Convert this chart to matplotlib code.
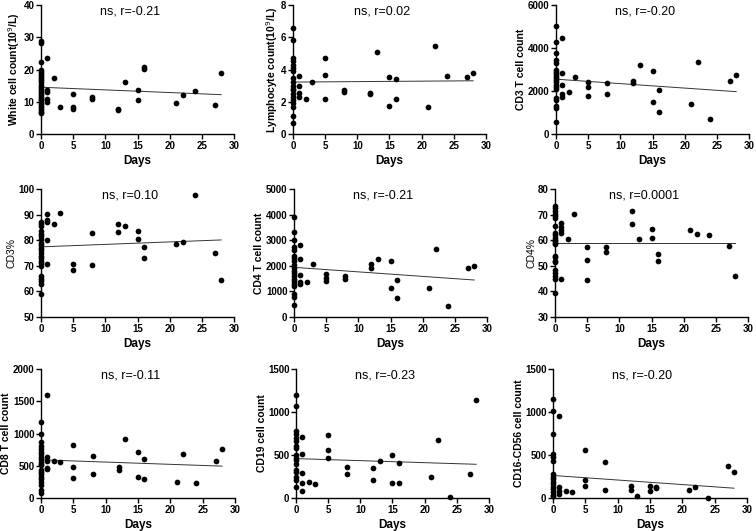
import numpy as np
import matplotlib
matplotlib.use("Agg")
import matplotlib.pyplot as plt

plt.rcParams["font.family"] = ["Liberation Sans", "DejaVu Sans"]

# -- values (day 0 samples, then later samples)
wbc_d0 = [28.9, 28.3, 22.3, 19.8, 19.2, 18.5, 18.0, 17.3, 16.7, 16.0, 15.3, 14.7, 14.0,
          13.4, 12.8, 12.2, 11.6, 11.0, 10.4, 9.8, 9.2, 8.6, 8.0, 7.4, 6.8, 6.5]
wbc_days = [1, 1, 1, 1, 1, 2, 3, 5, 5, 5, 8, 8, 12, 12, 13, 15, 15, 16, 16, 21, 22, 24, 27, 28]
wbc_vals = [23.6, 13.6, 13.1, 10.7, 10.0, 17.3, 8.5, 12.3, 8.3, 7.9, 11.4, 11.0, 7.9, 7.3,
            16.1, 13.6, 10.5, 20.9, 20.2, 9.5, 12.2, 13.4, 9.0, 19.0]

lym_d0 = [6.55, 5.83, 4.7, 4.5, 4.3, 4.1, 3.9, 3.5, 3.2, 3.0, 2.8, 2.7, 2.5, 2.3, 2.1,
          1.9, 1.7, 1.14, 0.7]
lym_days = [1, 1, 1, 1, 2, 3, 5, 5, 5, 8, 8, 12, 12, 13, 15, 15, 16, 16, 21, 22, 24, 27, 28]
lym_vals = [3.6, 3.0, 2.55, 2.27, 2.19, 3.2, 4.69, 3.64, 2.19, 2.73, 2.62, 2.56, 2.46, 5.06,
            3.51, 1.74, 3.41, 2.19, 1.65, 5.45, 3.62, 3.55, 3.8]

cd3_d0 = [5020, 4270, 3760, 3460, 3320, 3000, 2900, 2800, 2700, 2600, 2500, 2400, 2300,
          2200, 2100, 1690, 1560, 1280, 1210, 550]
cd3_days = [1, 1, 1, 1, 1, 2, 3, 5, 5, 5, 8, 8, 12, 12, 13, 15, 15, 16, 16, 21, 22, 24, 27, 28]
cd3_vals = [4470, 2850, 2300, 1840, 1720, 1970, 2650, 2430, 2200, 1760, 2350, 1860, 2470,
            2390, 3230, 2930, 1480, 2050, 1010, 1390, 3370, 680, 2470, 2760]

cd3p_d0 = [87.2, 86.5, 85.5, 83.5, 82.5, 81.5, 80.5, 79.0, 78.0, 77.0, 76.0, 75.0, 74.0,
           73.0, 72.0, 71.0, 70.0, 66.0, 65.0, 64.0, 62.8, 58.9]
cd3p_days = [1, 1, 1, 1, 1, 2, 3, 5, 5, 8, 8, 12, 12, 13, 15, 15, 16, 16, 21, 22, 24, 27, 28]
cd3p_vals = [90.4, 87.9, 87.1, 80.1, 70.6, 86.2, 90.5, 70.7, 68.4, 82.9, 70.3, 86.3, 83.3,
             85.5, 83.5, 80.5, 77.3, 72.9, 78.4, 79.2, 97.5, 75.1, 64.3]

cd4_d0 = [3906, 3333, 3008, 2721, 2600, 2380, 2300, 2200, 2050, 1900, 1800, 1700, 1600,
          1500, 1400, 1300, 1211, 885, 794, 469]
cd4_days = [1, 1, 1, 1, 1, 2, 3, 5, 5, 5, 8, 8, 12, 12, 13, 15, 15, 16, 16, 21, 22, 24, 27, 28]
cd4_vals = [2826, 2253, 1654, 1367, 1276, 1380, 2057, 1667, 1536, 1419, 1615, 1471, 2057,
            1927, 2279, 2200, 1146, 1445, 729, 1120, 2643, 430, 1914, 1979]

cd4p_d0 = [73.4, 72.4, 71.5, 70.4, 69.5, 68.5, 65.6, 63.0, 62.0, 61.0, 60.0, 59.5, 59.0,
           58.5, 54.0, 53.4, 52.0, 51.5, 48.4, 47.0, 46.0, 44.7, 39.2]
cd4p_days = [1, 1, 1, 1, 1, 2, 3, 5, 5, 5, 8, 8, 12, 12, 13, 15, 15, 16, 16, 21, 22, 24, 27, 28]
cd4p_vals = [66.6, 65.3, 64.0, 62.7, 44.8, 60.6, 70.4, 57.3, 52.1, 44.5, 57.5, 55.5, 71.3,
             66.4, 60.5, 64.4, 60.7, 54.5, 52.0, 63.9, 62.6, 61.9, 57.8, 46.0]

cd8_d0 = [1184, 997, 873, 800, 760, 720, 680, 640, 600, 560, 520, 504, 430, 400, 370,
          330, 300, 244, 200, 125, 78]
cd8_days = [1, 1, 1, 1, 1, 2, 3, 5, 5, 5, 8, 8, 12, 12, 13, 15, 15, 16, 16, 21, 22, 24, 27, 28]
cd8_vals = [1600, 634, 571, 462, 442, 571, 561, 826, 483, 317, 655, 369, 483, 436, 914,
            706, 327, 603, 291, 255, 681, 229, 577, 764]

cd19_d0 = [1202, 1065, 776, 740, 700, 666, 600, 580, 500, 470, 440, 400, 330, 300, 250,
           212, 125]
cd19_days = [1, 1, 1, 1, 1, 2, 3, 5, 5, 5, 8, 8, 12, 12, 13, 15, 15, 16, 16, 21, 22, 24, 27, 28]
cd19_vals = [709, 513, 290, 176, 86, 184, 168, 732, 556, 466, 360, 282, 345, 212, 431,
             501, 180, 411, 176, 243, 678, 12, 278, 1144]

nk_d0 = [1152, 1011, 744, 513, 474, 427, 280, 250, 220, 190, 160, 130, 100, 70, 40, 20]
nk_days = [1, 1, 1, 1, 2, 3, 5, 5, 5, 8, 8, 12, 12, 13, 15, 15, 16, 16, 21, 22, 24, 27, 28]
nk_vals = [952, 125, 86, 51, 86, 71, 560, 208, 137, 419, 98, 145, 98, 27, 137, 86, 129,
           121, 98, 133, 0, 368, 305]

# regression line value at day 0 and day 28
fit_lines = [(14.5, 12.2), (3.22, 3.30), (2550, 1970), (77.4, 80.1), (1940, 1445),
             (58.8, 58.8), (592, 494), (458, 392), (262, 114)]

labels = ["White cell count(10$^{9}$/L)", "Lymphocyte count(10$^{9}$/L)", "CD3 T cell count",
          "CD3%", "CD4 T cell count", "CD4%",
          "CD8 T cell count", "CD19 cell count", "CD16-CD56 cell count"]
notes = ["ns, r=-0.21", "ns, r=0.02", "ns, r=-0.20", "ns, r=0.10", "ns, r=-0.21",
         "ns, r=0.0001", "ns, r=-0.11", "ns, r=-0.23", "ns, r=-0.20"]
ylims = [(0, 40, 10), (0, 8, 2), (0, 6000, 2000), (50, 100, 10), (0, 5000, 1000),
         (30, 80, 10), (0, 2000, 500), (0, 1500, 500), (0, 1500, 500)]

series = [(wbc_d0, wbc_days, wbc_vals), (lym_d0, lym_days, lym_vals),
          (cd3_d0, cd3_days, cd3_vals), (cd3p_d0, cd3p_days, cd3p_vals),
          (cd4_d0, cd4_days, cd4_vals), (cd4p_d0, cd4p_days, cd4p_vals),
          (cd8_d0, cd8_days, cd8_vals), (cd19_d0, cd19_days, cd19_vals),
          (nk_d0, nk_days, nk_vals)]

# axes boxes in pixels: left, right, top, bottom
W, H = 756, 531
boxes = [(41, 234, 5, 134), (293, 486, 5, 134), (556, 749, 5, 134),
         (41, 234, 189, 317), (294, 487, 189, 317), (555, 748, 189, 317),
         (41, 235, 369, 498), (296, 489, 369, 498), (553, 747, 369, 498)]

f = plt.figure(figsize=(W / 100, H / 100), dpi=100)

for i in range(9):
    l, r, t, b = boxes[i]
    ax = f.add_axes([l / W, (H - b) / H, (r - l) / W, (b - t) / H])
    d0, days, vals = series[i]
    x = np.concatenate([np.zeros(len(d0)), days])
    y = np.concatenate([d0, vals])
    ax.scatter(x, y, s=17, color="black", zorder=3, clip_on=False, linewidths=0)
    y0, y1 = fit_lines[i]
    ax.plot([0, 28], [y0, y1], color="#333333", lw=0.7, zorder=2)

    lo, hi, step = ylims[i]
    ax.set_ylim(lo, hi)
    ax.set_yticks(np.arange(lo, hi + step / 2, step))
    ax.set_xlim(0, 30)
    ax.set_xticks(np.arange(0, 31, 5))
    for s in ("top", "right"):
        ax.spines[s].set_visible(False)
    for s in ("left", "bottom"):
        ax.spines[s].set_linewidth(1.0)
    ax.tick_params(direction="out", length=3.5, width=1.0, pad=1.2, labelsize=7)
    for tl in ax.get_xticklabels() + ax.get_yticklabels():
        tl.set_fontweight("bold")

    pct = labels[i].endswith("%")
    ax.set_ylabel(labels[i], fontsize=7.5, fontweight="normal" if pct else "bold", labelpad=1)
    ax.set_xlabel("Days", fontsize=8.5, fontweight="bold", labelpad=3)
    ax.text(0.46, 0.95, notes[i], transform=ax.transAxes, ha="center", va="center",
            fontsize=9)

f.savefig("out.png", dpi=100)
